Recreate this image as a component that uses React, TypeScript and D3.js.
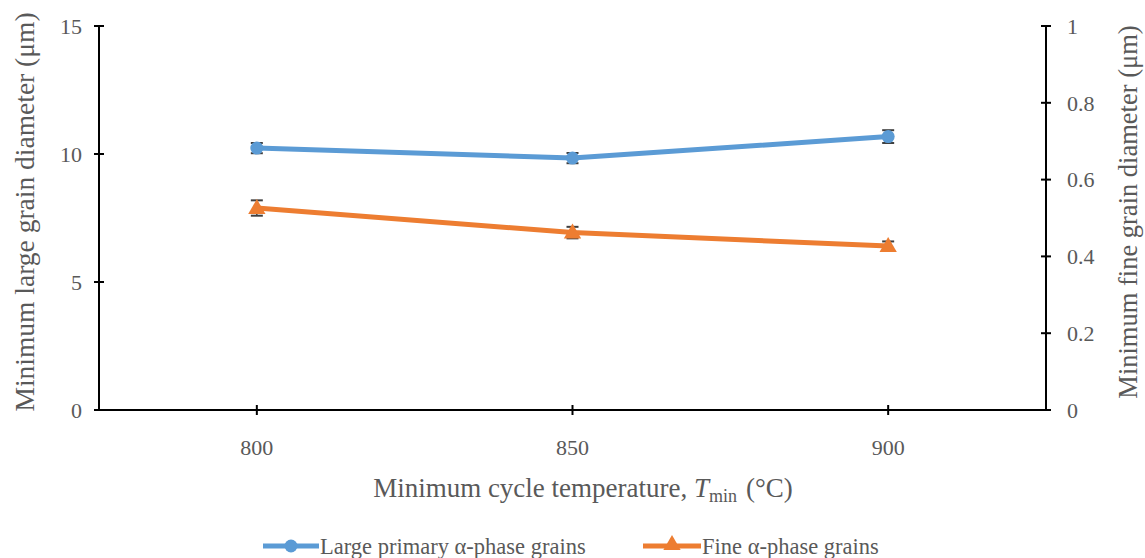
import React, { useEffect, useRef } from 'react';
import * as d3 from 'd3';

// --- Data ---
const temperatures = ['800', '850', '900'];
const largeGrain = [10.23, 9.84, 10.68];
const largeGrainErr = [0.2, 0.2, 0.25];
const fineGrain = [0.526, 0.462, 0.427];
const fineGrainErr = [0.02, 0.015, 0.012];
const leftTicks = [0, 5, 10, 15];
const rightTicks = [0, 0.2, 0.4, 0.6, 0.8, 1];

const BLUE = '#5b9bd5';
const ORANGE = '#ed7d31';
const LABEL = '#595959';
const FONT = '"Liberation Serif", "Times New Roman", serif';

const App: React.FC = () => {
  const svgRef = useRef<SVGSVGElement | null>(null);

  useEffect(() => {
    if (!svgRef.current) return;
    const width = 1145;
    const height = 558;
    const margin = { top: 26, right: 99, bottom: 148, left: 99 };

    const svg = d3.select(svgRef.current);
    svg.selectAll('*').remove();

    const x = d3.scalePoint<string>().domain(temperatures)
      .range([margin.left, width - margin.right]).padding(0.5);
    const yL = d3.scaleLinear().domain([0, 15]).range([height - margin.bottom, margin.top]);
    const yR = d3.scaleLinear().domain([0, 1]).range([height - margin.bottom, margin.top]);
    const y0 = yL(0);

    const g = svg.append('g');

    // axes
    g.append('line').attr('x1', margin.left).attr('x2', width - margin.right)
      .attr('y1', y0).attr('y2', y0).attr('stroke', '#000').attr('stroke-width', 2);
    g.append('line').attr('x1', margin.left).attr('x2', margin.left)
      .attr('y1', yL(15)).attr('y2', y0).attr('stroke', '#000').attr('stroke-width', 2);
    g.append('line').attr('x1', width - margin.right).attr('x2', width - margin.right)
      .attr('y1', yR(1)).attr('y2', y0).attr('stroke', '#000').attr('stroke-width', 2);

    // left ticks
    leftTicks.forEach(t => {
      g.append('line').attr('x1', margin.left - 5).attr('x2', margin.left + 5)
        .attr('y1', yL(t)).attr('y2', yL(t)).attr('stroke', '#000').attr('stroke-width', 2);
      g.append('text').attr('x', margin.left - 17).attr('y', yL(t)).attr('dy', '0.35em')
        .attr('text-anchor', 'end').attr('font-family', FONT).attr('font-size', 22)
        .attr('fill', LABEL).text(t);
    });

    // right ticks
    const xr = width - margin.right;
    rightTicks.forEach(t => {
      g.append('line').attr('x1', xr - 5).attr('x2', xr + 5)
        .attr('y1', yR(t)).attr('y2', yR(t)).attr('stroke', '#000').attr('stroke-width', 2);
      g.append('text').attr('x', xr + 21).attr('y', yR(t)).attr('dy', '0.35em')
        .attr('text-anchor', 'start').attr('font-family', FONT).attr('font-size', 22)
        .attr('fill', LABEL).text(d3.format('~g')(t));
    });

    // x ticks
    temperatures.forEach(t => {
      const px = x(t)!;
      g.append('line').attr('x1', px).attr('x2', px).attr('y1', y0 - 5).attr('y2', y0 + 5)
        .attr('stroke', '#000').attr('stroke-width', 2);
      g.append('text').attr('x', px).attr('y', y0 + 45).attr('text-anchor', 'middle')
        .attr('font-family', FONT).attr('font-size', 22).attr('fill', LABEL).text(t);
    });

    // axis titles
    g.append('text').attr('transform', `translate(34,212) rotate(-90)`)
      .attr('text-anchor', 'middle').attr('font-family', FONT).attr('font-size', 27.5)
      .attr('fill', LABEL).text('Minimum large grain diameter (μm)');
    g.append('text').attr('transform', `translate(1137,212) rotate(-90)`)
      .attr('text-anchor', 'middle').attr('font-family', FONT).attr('font-size', 26.5)
      .attr('fill', LABEL).text('Minimum fine grain diameter (μm)');

    const xt = g.append('text').attr('x', 583)
      .attr('y', 497).attr('text-anchor', 'middle').attr('font-family', FONT)
      .attr('font-size', 27).attr('fill', LABEL);
    xt.append('tspan').text('Minimum cycle temperature, ');
    xt.append('tspan').attr('font-style', 'italic').text('T');
    xt.append('tspan').attr('font-size', 18).attr('dy', 5).text('min');
    xt.append('tspan').attr('dy', -5).attr('dx', 9).text('(°C)');

    const line = d3.line<[number, number]>().x(d => d[0]).y(d => d[1]);
    const tri = d3.symbol().type(d3.symbolTriangle).size(130);

    // error bars helper
    const errBar = (px: number, yTop: number, yBot: number) => {
      g.append('line').attr('x1', px).attr('x2', px).attr('y1', yTop).attr('y2', yBot)
        .attr('stroke', '#404040').attr('stroke-width', 1.5);
      [yTop, yBot].forEach(yy => g.append('line').attr('x1', px - 6).attr('x2', px + 6)
        .attr('y1', yy).attr('y2', yy).attr('stroke', '#404040').attr('stroke-width', 2));
    };

    // large grains (left axis)
    largeGrain.forEach((v, i) => errBar(x(temperatures[i])!, yL(v + largeGrainErr[i]), yL(v - largeGrainErr[i])));
    g.append('path')
      .attr('d', line(largeGrain.map((v, i) => [x(temperatures[i])!, yL(v)])))
      .attr('fill', 'none').attr('stroke', BLUE).attr('stroke-width', 5).attr('stroke-linejoin', 'round');
    largeGrain.forEach((v, i) => g.append('circle').attr('cx', x(temperatures[i])!).attr('cy', yL(v))
      .attr('r', 6.5).attr('fill', BLUE));

    // fine grains (right axis)
    fineGrain.forEach((v, i) => errBar(x(temperatures[i])!, yR(v + fineGrainErr[i]), yR(v - fineGrainErr[i])));
    g.append('path')
      .attr('d', line(fineGrain.map((v, i) => [x(temperatures[i])!, yR(v)])))
      .attr('fill', 'none').attr('stroke', ORANGE).attr('stroke-width', 5).attr('stroke-linejoin', 'round');
    fineGrain.forEach((v, i) => g.append('path').attr('d', tri()!)
      .attr('transform', `translate(${x(temperatures[i])!},${yR(v) + 1})`).attr('fill', ORANGE));

    // legend
    const ly = 546;
    g.append('line').attr('x1', 263).attr('x2', 319).attr('y1', ly).attr('y2', ly)
      .attr('stroke', BLUE).attr('stroke-width', 5);
    g.append('circle').attr('cx', 291).attr('cy', ly).attr('r', 6.5).attr('fill', BLUE);
    g.append('text').attr('x', 320).attr('y', ly).attr('dy', '0.35em').attr('font-family', FONT)
      .attr('font-size', 22.5).attr('fill', LABEL).text('Large primary α-phase grains');

    g.append('line').attr('x1', 643).attr('x2', 701).attr('y1', ly).attr('y2', ly)
      .attr('stroke', ORANGE).attr('stroke-width', 5);
    g.append('path').attr('d', tri()!).attr('transform', `translate(672,${ly - 1})`).attr('fill', ORANGE);
    g.append('text').attr('x', 702).attr('y', ly).attr('dy', '0.35em').attr('font-family', FONT)
      .attr('font-size', 22.5).attr('fill', LABEL).text('Fine α-phase grains');
  }, []);

  return (
    <svg ref={svgRef} width={1145} height={558}
      style={{ position: 'absolute', left: 0, top: 0, background: '#fff' }} />
  );
};

export default App;
